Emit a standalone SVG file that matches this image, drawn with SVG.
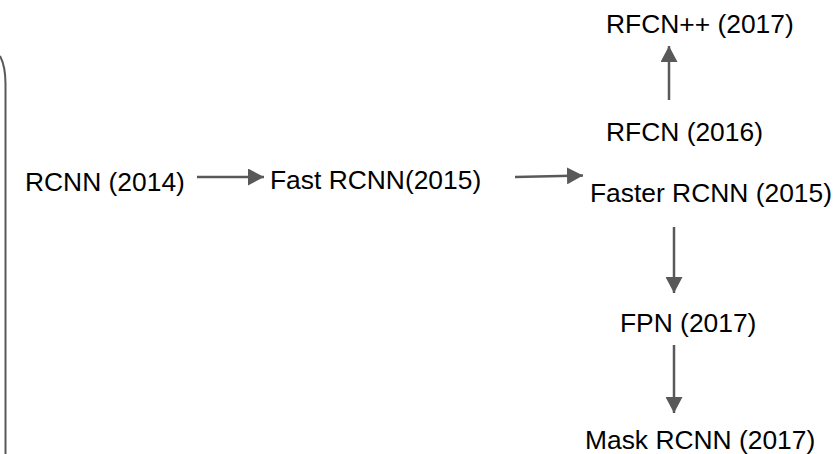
<svg xmlns="http://www.w3.org/2000/svg" width="836" height="454" viewBox="0 0 836 454">
<style>
text{font-family:"Liberation Sans",Arial,sans-serif;font-size:26.4px;fill:#000}
.c{stroke:#595959;stroke-width:2.5;fill:none}
</style>
<defs>
<marker id="ah" markerUnits="userSpaceOnUse" markerWidth="17" markerHeight="17" refX="16" refY="8.5" orient="auto">
<path d="M0,0 L16,8.5 L0,17 z" fill="#595959"/>
</marker>
</defs>
<rect width="836" height="454" fill="#fff"/>
<path d="M0,56 Q5.5,66 5.5,84 L5.5,454" stroke="#595959" stroke-width="2" fill="none"/>
<g id="n-rcnn"><text x="25" y="191">RCNN (2014)</text></g>
<g id="n-fast"><text x="270" y="188.5">Fast RCNN(2015)</text></g>
<g id="n-faster"><text x="590" y="202">Faster RCNN (2015)</text></g>
<g id="n-rfcn"><text x="606" y="141">RFCN (2016)</text></g>
<g id="n-rfcnpp"><text x="606" y="32.5">RFCN++ (2017)</text></g>
<g id="n-fpn"><text x="620" y="332">FPN (2017)</text></g>
<g id="n-mask"><text x="585" y="448.5">Mask RCNN (2017)</text></g>
<g id="connectors">
<line class="c" x1="197" y1="177" x2="264" y2="177" marker-end="url(#ah)"/>
<line class="c" x1="515" y1="177" x2="583" y2="175.5" marker-end="url(#ah)"/>
<line class="c" x1="669" y1="100" x2="669" y2="46" marker-end="url(#ah)"/>
<line class="c" x1="674" y1="227" x2="674" y2="293" marker-end="url(#ah)"/>
<line class="c" x1="674" y1="345" x2="674" y2="413" marker-end="url(#ah)"/>
</g>
</svg>
